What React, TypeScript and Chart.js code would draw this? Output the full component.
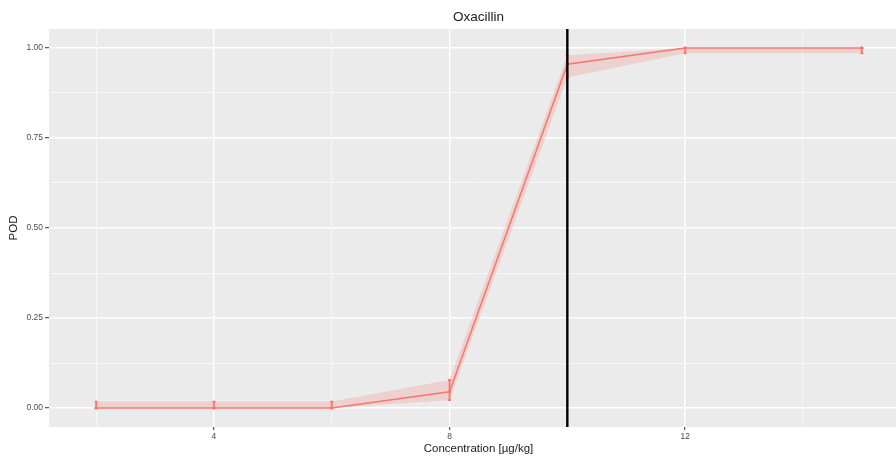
import React, { useEffect, useRef } from "react";
import { Chart, registerables } from "chart.js";

Chart.register(...registerables);

// Concentration levels (µg/kg) and probability of detection with its confidence band
const concentration = [2, 4, 6, 8, 10, 12, 15];
const pod = [0, 0, 0, 0.045, 0.955, 1.0, 1.0];
const podLower = [0, 0, 0, 0.022, 0.918, 0.985, 0.985];
const podUpper = [0.018, 0.018, 0.018, 0.078, 0.98, 1.0, 1.0];

// Reference concentration marked by the vertical line
const thresholdX = 10;

// Axis breaks: major ones are labelled, minor ones only get a thin grid line
const xTickValues = [2, 4, 6, 8, 10, 12, 14];
const xMajorTicks = [4, 8, 12];
const yTickValues = [0, 0.125, 0.25, 0.375, 0.5, 0.625, 0.75, 0.875, 1.0];
const yMajorTicks = [0, 0.25, 0.5, 0.75, 1.0];

const titleText = "Oxacillin";
const xTitleText = "Concentration [µg/kg]";
const yTitleText = "POD";

const RED = "#F8766D";
const RIBBON = "rgba(248,118,109,0.22)";
const FONT = "'Liberation Sans', Arial, Helvetica, sans-serif";

const isMajor = (list: number[], v: number) => list.some((m) => Math.abs(m - v) < 1e-9);

const panelPlugin = {
  id: "panel",
  beforeDraw(chart: any) {
    const { ctx, chartArea } = chart;
    ctx.save();
    ctx.fillStyle = "#EBEBEB";
    ctx.fillRect(chartArea.left, chartArea.top, chartArea.right - chartArea.left, chartArea.bottom - chartArea.top);
    ctx.restore();
  },
};

const errorBarPlugin = {
  id: "errorBars",
  afterDatasetsDraw(chart: any) {
    const { ctx } = chart;
    const xs = chart.scales.x;
    const ys = chart.scales.y;
    ctx.save();
    ctx.strokeStyle = RED;
    ctx.lineWidth = 1.8;
    concentration.forEach((c, i) => {
      const px = xs.getPixelForValue(c);
      const top = ys.getPixelForValue(podUpper[i]);
      const bot = ys.getPixelForValue(podLower[i]);
      ctx.beginPath();
      ctx.moveTo(px, top);
      ctx.lineTo(px, bot);
      ctx.stroke();
      ctx.beginPath();
      ctx.moveTo(px - 1.5, bot);
      ctx.lineTo(px + 1.5, bot);
      ctx.moveTo(px - 1.5, top);
      ctx.lineTo(px + 1.5, top);
      ctx.stroke();
    });
    // vertical reference line
    const vx = xs.getPixelForValue(thresholdX);
    ctx.strokeStyle = "#000000";
    ctx.lineWidth = 2.4;
    ctx.beginPath();
    ctx.moveTo(vx, chart.chartArea.top);
    ctx.lineTo(vx, chart.chartArea.bottom);
    ctx.stroke();
    ctx.restore();
  },
};

const textPlugin = {
  id: "texts",
  afterDraw(chart: any) {
    const { ctx, chartArea } = chart;
    const cx = (chartArea.left + chartArea.right) / 2;
    const cy = (chartArea.top + chartArea.bottom) / 2;
    ctx.save();
    ctx.fillStyle = "#1a1a1a";
    ctx.textAlign = "center";
    ctx.textBaseline = "middle";
    ctx.font = `13.5px ${FONT}`;
    ctx.fillText(titleText, cx + 6, 17);
    ctx.font = `11.5px ${FONT}`;
    ctx.fillText(xTitleText, cx + 6, 449);
    ctx.translate(14, cy);
    ctx.rotate(-Math.PI / 2);
    ctx.fillText(yTitleText, 0, 0);
    ctx.restore();
  },
};

export default function App() {
  const canvasRef = useRef<HTMLCanvasElement | null>(null);

  useEffect(() => {
    if (!canvasRef.current) return;
    const line = concentration.map((c, i) => ({ x: c, y: pod[i] }));
    const upper = concentration.map((c, i) => ({ x: c, y: podUpper[i] }));
    const lower = concentration.map((c, i) => ({ x: c, y: podLower[i] }));

    const chart = new Chart(canvasRef.current, {
      type: "line",
      data: {
        datasets: [
          {
            label: "upper",
            data: upper,
            borderWidth: 0,
            pointRadius: 0,
            backgroundColor: RIBBON,
            fill: "+1",
            tension: 0,
          },
          {
            label: "lower",
            data: lower,
            borderWidth: 0,
            pointRadius: 0,
            fill: false,
            tension: 0,
          },
          {
            label: "POD",
            data: line,
            borderColor: RED,
            borderWidth: 1.5,
            pointRadius: 1.6,
            pointBackgroundColor: RED,
            pointBorderWidth: 0,
            fill: false,
            tension: 0,
          },
        ],
      },
      options: {
        responsive: false,
        animation: false,
        layout: { autoPadding: false, padding: { top: 29, right: 0, left: 0, bottom: 0 } },
        plugins: {
          legend: { display: false },
          title: { display: false },
          tooltip: { enabled: false },
        },
        scales: {
          x: {
            type: "linear",
            min: 1.2,
            max: 15.58,
            afterBuildTicks: (axis: any) => {
              axis.ticks = xTickValues.map((v) => ({ value: v }));
            },
            afterFit: (scale: any) => {
              scale.height = 35;
              scale.paddingLeft = 0;
              scale.paddingRight = 0;
            },
            border: { display: false },
            grid: {
              color: "#FFFFFF",
              lineWidth: (ctx: any) => (isMajor(xMajorTicks, ctx.tick?.value) ? 1.4 : 0.6),
              tickColor: (ctx: any) => (isMajor(xMajorTicks, ctx.tick?.value) ? "#333333" : "rgba(0,0,0,0)"),
              tickLength: 3,
              tickWidth: 1,
            },
            ticks: {
              autoSkip: false,
              maxRotation: 0,
              padding: 2,
              color: "#4D4D4D",
              font: { family: FONT, size: 8.5 },
              callback: (value: any) => (isMajor(xMajorTicks, Number(value)) ? String(value) : ""),
            },
          },
          y: {
            type: "linear",
            min: -0.0526,
            max: 1.0526,
            afterBuildTicks: (axis: any) => {
              axis.ticks = yTickValues.map((v) => ({ value: v }));
            },
            afterFit: (scale: any) => {
              scale.width = 49;
              scale.paddingTop = 0;
              scale.paddingBottom = 0;
            },
            border: { display: false },
            grid: {
              color: "#FFFFFF",
              lineWidth: (ctx: any) => (isMajor(yMajorTicks, ctx.tick?.value) ? 1.4 : 0.6),
              tickColor: (ctx: any) => (isMajor(yMajorTicks, ctx.tick?.value) ? "#333333" : "rgba(0,0,0,0)"),
              tickLength: 4,
              tickWidth: 1,
            },
            ticks: {
              autoSkip: false,
              padding: 2,
              color: "#4D4D4D",
              font: { family: FONT, size: 8.5 },
              callback: (value: any) => (isMajor(yMajorTicks, Number(value)) ? Number(value).toFixed(2) : ""),
            },
          },
        },
      },
      plugins: [panelPlugin, errorBarPlugin, textPlugin],
    });

    return () => chart.destroy();
  }, []);

  return (
    <div style={{ position: "absolute", left: 0, top: 0, width: 896, height: 462, background: "#FFFFFF" }}>
      <canvas ref={canvasRef} width={896} height={462} style={{ display: "block" }} />
    </div>
  );
}
